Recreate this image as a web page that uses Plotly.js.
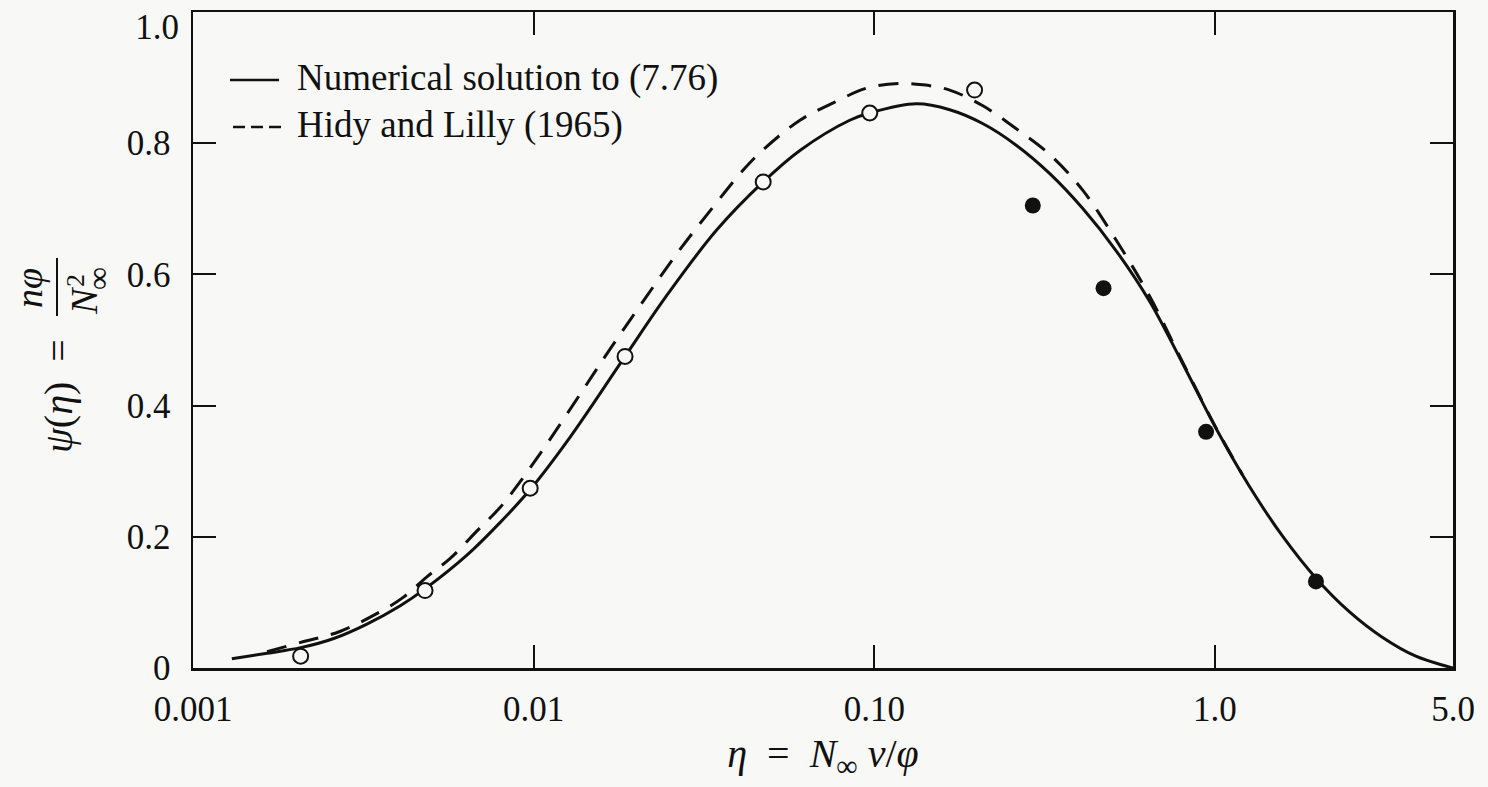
<!DOCTYPE html>
<html>
<head>
<meta charset="utf-8">
<script src="https://cdn.plot.ly/plotly-3.0.1.min.js"></script>
<style>html,body{margin:0;padding:0;background:#f8f8f6;}</style>
</head>
<body>
<div id="chart" style="width:1488px;height:787px;"></div>
<script>
// ---- data ----
const seriesNames = ['Numerical solution to (7.76)', 'Hidy and Lilly (1965)'];

const solidX = [0.0013, 0.00165, 0.00207, 0.00259, 0.00324, 0.00406, 0.00481, 0.00637, 0.00798, 0.00977,
  0.0128, 0.01855, 0.0246, 0.0345, 0.0472, 0.0605, 0.0847, 0.097, 0.133, 0.1665,
  0.208, 0.261, 0.327, 0.41, 0.513, 0.643, 0.806, 1.008, 1.262, 1.58,
  1.98, 2.48, 3.1, 3.89, 4.76, 5.0];
const solidY = [0.014, 0.0225, 0.031, 0.045, 0.067, 0.095, 0.121, 0.172, 0.222, 0.272,
  0.352, 0.475, 0.568, 0.668, 0.741, 0.789, 0.835, 0.846, 0.860, 0.851,
  0.830, 0.797, 0.754, 0.700, 0.636, 0.559, 0.463, 0.365, 0.277, 0.201,
  0.137, 0.086, 0.047, 0.018, 0.003, 0.0];

const dashX = [0.00165, 0.00207, 0.00271, 0.00355, 0.00415, 0.00486, 0.00569, 0.00682, 0.00798, 0.00913,
  0.01118, 0.0140, 0.01676, 0.02148, 0.0269, 0.03367, 0.04123, 0.0472, 0.0605, 0.0755,
  0.0951, 0.1188, 0.1388, 0.1665, 0.2084, 0.2612, 0.3271, 0.4096, 0.5133, 0.6427,
  0.806, 1.008, 1.204];
const dashY = [0.025, 0.039, 0.056, 0.086, 0.108, 0.139, 0.167, 0.209, 0.245, 0.284,
  0.349, 0.425, 0.486, 0.567, 0.638, 0.703, 0.759, 0.790, 0.835, 0.861,
  0.884, 0.891, 0.889, 0.881, 0.857, 0.822, 0.783, 0.728, 0.652, 0.567,
  0.465, 0.366, 0.295];

const openX = [0.00207, 0.0048, 0.00977, 0.01855, 0.0472, 0.097, 0.197];
const openY = [0.018, 0.118, 0.274, 0.475, 0.741, 0.846, 0.881];

const filledX = [0.292, 0.471, 0.942, 1.98];
const filledY = [0.705, 0.579, 0.360, 0.132];

const xTickVals = [0.001, 0.01, 0.1, 1.0, 5.0];
const xTickText = ['0.001', '0.01', '0.10', '1.0', '5.0'];
const yTickVals = [0, 0.2, 0.4, 0.6, 0.8];
const yTickText = ['0', '0.2', '0.4', '0.6', '0.8'];
const yTopTickVals = [1.0];
const yTopTickText = ['1.0'];

// ---- layout geometry ----
const FONT = 'Liberation Serif, Times New Roman, serif';
const INK = '#111111';
const BG = '#f8f8f6';
const L = 193, R = 1453, T = 12, B = 668, WIDTH = 1488, HEIGHT = 787;
const PW = R - L, PH = B - T;
const px = p => (p - L) / PW;
const py = q => (B - q) / PH;

const traces = [
  {x: solidX, y: solidY, name: seriesNames[0], type: 'scatter', mode: 'lines',
   line: {color: INK, width: 3, shape: 'spline', smoothing: 1}, hoverinfo: 'x+y'},
  {x: dashX, y: dashY, name: seriesNames[1], type: 'scatter', mode: 'lines',
   line: {color: INK, width: 3, dash: '20px,13px', shape: 'spline', smoothing: 1}, hoverinfo: 'x+y'},
  {x: openX, y: openY, name: 'open points', type: 'scatter', mode: 'markers',
   marker: {symbol: 'circle', size: 15, color: BG, line: {color: INK, width: 2}}},
  {x: filledX, y: filledY, name: 'filled points', type: 'scatter', mode: 'markers',
   marker: {symbol: 'circle', size: 16, color: INK, line: {color: INK, width: 0}}},
  // carrier for the secondary y axis holding the top tick label
  {x: [], y: [], yaxis: 'y2', type: 'scatter', mode: 'markers', showlegend: false, hoverinfo: 'skip'}
];

const axisCommon = {
  ticks: 'inside', ticklen: 23, tickwidth: 2, tickcolor: INK,
  showline: true, linewidth: 2.5, linecolor: INK, mirror: 'ticks',
  showgrid: false, zeroline: false, ticklabeloverflow: 'allow',
  tickfont: {family: FONT, size: 35, color: INK}
};

const layout = {
  width: WIDTH, height: HEIGHT,
  margin: {l: L, r: WIDTH - R, t: T, b: HEIGHT - B},
  paper_bgcolor: BG, plot_bgcolor: BG,
  showlegend: false,
  xaxis: Object.assign({}, axisCommon, {
    type: 'log', range: [-3, Math.log10(5)],
    tickmode: 'array', tickvals: xTickVals, ticktext: xTickText,
    ticklabelstandoff: 8,
    title: {text: '<i>η</i>  =  <i>N</i><sub><span style="font-size:30px">∞</span></sub> <i>ν</i>/<i>φ</i>',
            font: {family: FONT, size: 40, color: INK}, standoff: 12}
  }),
  yaxis: Object.assign({}, axisCommon, {
    range: [0, 1],
    tickmode: 'array', tickvals: yTickVals, ticktext: yTickText,
    ticklabelstandoff: 13
  }),
  yaxis2: {
    overlaying: 'y', anchor: 'x', side: 'left', range: [0, 1],
    showline: false, ticks: '', showgrid: false, zeroline: false,
    tickmode: 'array', tickvals: yTopTickVals, ticktext: yTopTickText,
    ticklabelshift: 15, ticklabelstandoff: 13, ticklabeloverflow: 'allow',
    tickfont: {family: FONT, size: 35, color: INK}
  },
  shapes: [
    {type: 'line', xref: 'paper', yref: 'paper', x0: px(230), x1: px(279), y0: py(80), y1: py(80),
     line: {color: INK, width: 2.5}},
    {type: 'line', xref: 'paper', yref: 'paper', x0: px(233), x1: px(281), y0: py(127), y1: py(127),
     line: {color: INK, width: 2.5, dash: '12px,6px'}},
    {type: 'line', xref: 'paper', yref: 'paper', x0: px(57), x1: px(57), y0: py(258), y1: py(316),
     line: {color: INK, width: 2}}
  ],
  annotations: [
    {xref: 'paper', yref: 'paper', x: px(295), y: py(78), xanchor: 'left', yanchor: 'middle',
     text: seriesNames[0], showarrow: false, font: {family: FONT, size: 37, color: INK}},
    {xref: 'paper', yref: 'paper', x: px(295), y: py(125), xanchor: 'left', yanchor: 'middle',
     text: seriesNames[1], showarrow: false, font: {family: FONT, size: 37, color: INK}},
    // y title: psi(eta) = n phi / N^2_inf
    {xref: 'paper', yref: 'paper', x: px(58), y: py(396), xanchor: 'center', yanchor: 'middle',
     text: '<i>ψ</i>(<i>η</i>)  =', textangle: -90, showarrow: false,
     font: {family: FONT, size: 40, color: INK}},
    {xref: 'paper', yref: 'paper', x: px(29), y: py(288), xanchor: 'center', yanchor: 'middle',
     text: '<i>nφ</i>', textangle: -90, showarrow: false,
     font: {family: FONT, size: 38, color: INK}},
    {xref: 'paper', yref: 'paper', x: px(84), y: py(301), xanchor: 'center', yanchor: 'middle',
     text: '<i>N</i>', textangle: -90, showarrow: false,
     font: {family: FONT, size: 38, color: INK}},
    {xref: 'paper', yref: 'paper', x: px(75), y: py(281), xanchor: 'center', yanchor: 'middle',
     text: '2', textangle: -90, showarrow: false,
     font: {family: FONT, size: 26, color: INK}},
    {xref: 'paper', yref: 'paper', x: px(98), y: py(279), xanchor: 'center', yanchor: 'middle',
     text: '∞', textangle: -90, showarrow: false,
     font: {family: FONT, size: 32, color: INK}}
  ]
};

Plotly.newPlot('chart', traces, layout, {displayModeBar: false, staticPlot: true});
</script>
</body>
</html>
